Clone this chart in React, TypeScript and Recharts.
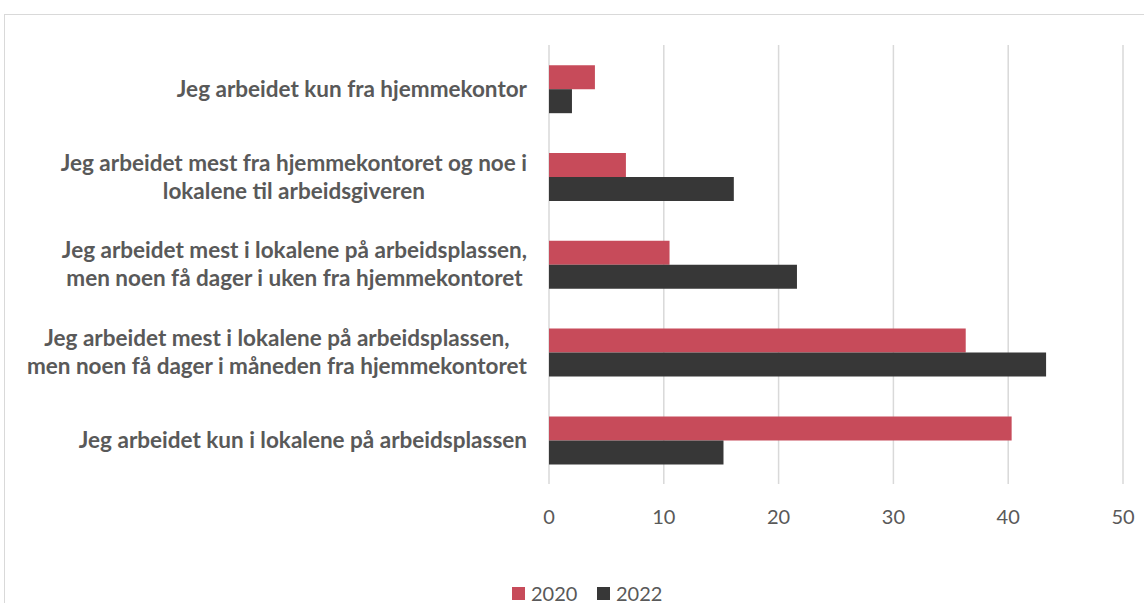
import { Bar, BarChart, CartesianGrid, Legend, XAxis, YAxis } from "recharts"

const categories = [
  "Jeg arbeidet kun fra hjemmekontor",
  "Jeg arbeidet mest fra hjemmekontoret og noe i\nlokalene til arbeidsgiveren",
  "Jeg arbeidet mest i lokalene på arbeidsplassen,\nmen noen få dager i uken fra hjemmekontoret",
  "Jeg arbeidet mest i lokalene på arbeidsplassen,\nmen noen få dager i måneden fra hjemmekontoret",
  "Jeg arbeidet kun i lokalene på arbeidsplassen",
]
const values2020 = [4.0, 6.7, 10.5, 36.3, 40.3]
const values2022 = [2.0, 16.1, 21.6, 43.3, 15.2]
const xTicks = [0, 10, 20, 30, 40, 50]

const RED = "#c74b5a"
const DARK = "#373737"
const TEXT = "#595959"
const FONT = "Lato, 'Open Sans', sans-serif"
const LABEL_SIZE = 22.5
const LABEL_FONT = `bold ${LABEL_SIZE}px Lato`

const data = categories.map((c, i) => ({
  category: c,
  y2020: values2020[i],
  y2022: values2022[i],
}))

let ctx: CanvasRenderingContext2D | null = null
function textWidth(s: string) {
  if (!ctx) ctx = document.createElement("canvas").getContext("2d")
  if (!ctx) return s.length * LABEL_SIZE * 0.5
  ctx.font = LABEL_FONT
  return ctx.measureText(s).width
}

// multi-line labels: block is right-aligned, lines centred inside the block
function CategoryTick({ x, y, payload }: any) {
  const lines = String(payload.value).split("\n")
  const w = Math.max(...lines.map(textWidth))
  const cx = x - 22 - w / 2
  const lineH = 28
  const top = y - ((lines.length - 1) * lineH) / 2
  return (
    <text
      fill={TEXT}
      fontSize={LABEL_SIZE}
      fontWeight={700}
      fontFamily={FONT}
      textAnchor="middle"
    >
      {lines.map((l, i) => (
        <tspan key={i} x={cx} y={top + i * lineH} dy="0.35em">
          {l}
        </tspan>
      ))}
    </text>
  )
}

function ValueTick({ x, y, payload }: any) {
  return (
    <text x={x} y={y + 33} dy="0.35em" fill={TEXT} fontSize={20} fontFamily={FONT} textAnchor="middle">
      {payload.value}
    </text>
  )
}

function LegendContent({ payload }: any) {
  return (
    <div style={{ display: "flex", alignItems: "center", height: 28, fontFamily: FONT, fontSize: 20, color: TEXT }}>
      {(payload ?? []).map((p: any) => (
        <div key={p.value} style={{ display: "flex", alignItems: "center", width: 85 }}>
          <span style={{ width: 13, height: 13, background: p.color, marginRight: 6, display: "inline-block" }} />
          {p.value}
        </div>
      ))}
    </div>
  )
}

export default function App() {
  return (
    <div
      style={{
        position: "absolute",
        left: 4,
        top: 14,
        width: 1150,
        height: 600,
        border: "1px solid #d9d9d9",
        background: "#fff",
      }}
    >
      <BarChart
        width={1139}
        height={592}
        data={data}
        layout="vertical"
        margin={{ top: 30, right: 21, left: 0, bottom: 0 }}
        barCategoryGap="23%"
        barGap={0}
      >
        <CartesianGrid horizontal={false} stroke="#d9d9d9" strokeWidth={1.5} />
        <XAxis
          type="number"
          domain={[0, 50]}
          ticks={xTicks}
          axisLine={false}
          tickLine={false}
          tickSize={0}
          tickMargin={0}
          height={95}
          tick={<ValueTick />}
        />
        <YAxis
          type="category"
          dataKey="category"
          width={544}
          axisLine={false}
          tickLine={false}
          tickSize={0}
          tickMargin={0}
          interval={0}
          tick={<CategoryTick />}
        />
        <Legend
          verticalAlign="bottom"
          content={<LegendContent />}
          wrapperStyle={{ left: 507, width: 300 }}
        />
        <Bar dataKey="y2020" name="2020" fill={RED} isAnimationActive={false} />
        <Bar dataKey="y2022" name="2022" fill={DARK} isAnimationActive={false} />
      </BarChart>
    </div>
  )
}
